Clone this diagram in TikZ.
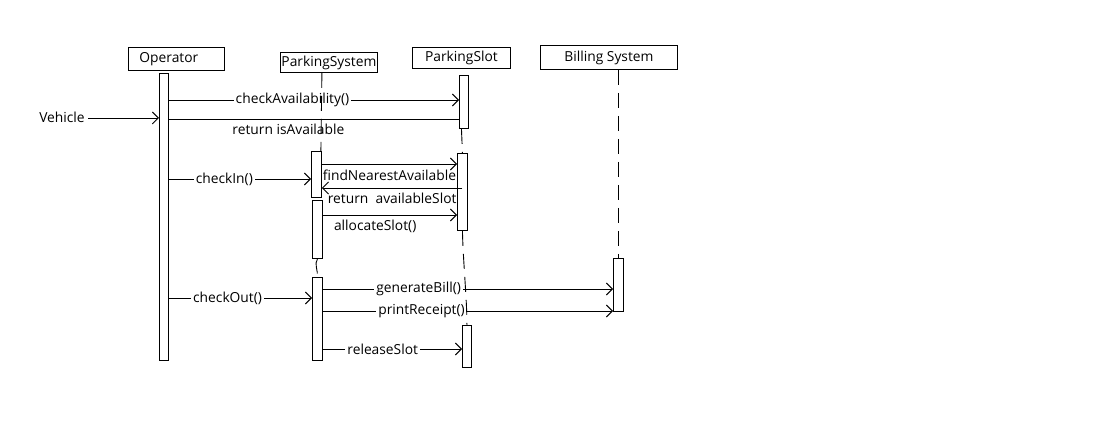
\documentclass[tikz,border=0pt]{standalone}
\usepackage{fontspec}
\setmainfont{Open Sans}
\usetikzlibrary{arrows.meta}
\begin{document}
\begin{tikzpicture}[x=1pt,y=-1pt,
  every node/.style={font=\fontsize{13.8}{16}\selectfont},
  obj/.style={draw, line width=0.9pt, inner sep=0pt, anchor=north west},
  act/.style={draw, fill=white, line width=0.9pt, inner sep=0pt, anchor=north west},
  msg/.style={line width=0.9pt, -{Straight Barb[length=6pt,width=12pt]}},
  plainmsg/.style={line width=0.9pt},
  lbl/.style={fill=white, inner xsep=2pt, inner ysep=1pt},
  lblbelow/.style={anchor=north, inner sep=1pt, yshift=-4pt},
  life/.style={line width=0.9pt, dash pattern=on 15pt off 8pt}]
\useasboundingbox (0,0) rectangle (1100,438);

% objects
\node[obj, minimum height=23pt, align=left, text width=74pt, inner xsep=11pt] (op) at (128,47) {Operator};
\node[obj, minimum width=97pt, minimum height=20pt] (ps) at (280,52) {ParkingSystem};
\node[obj, minimum width=98pt, minimum height=21pt] (slot) at (412,47) {ParkingSlot};
\node[obj, minimum width=137pt, minimum height=24pt] (bill) at (540,45) {Billing System};

% activation bars
\node[act, minimum width=9pt,  minimum height=287pt] (opact) at (159,73) {};
\node[act, minimum width=10pt, minimum height=46pt]  (ps1)   at (311,151) {};
\node[act, minimum width=10pt, minimum height=58pt]  (ps2)   at (312,200) {};
\node[act, minimum width=10pt, minimum height=83pt]  (ps3)   at (312,277) {};
\node[act, minimum width=9pt,  minimum height=53pt]  (sl1)   at (459,75) {};
\node[act, minimum width=10pt, minimum height=77pt]  (sl2)   at (457,153) {};
\node[act, minimum width=9pt,  minimum height=42pt]  (sl3)   at (462,325) {};
\node[act, minimum width=10pt, minimum height=53pt]  (bl)    at (613,258) {};

% external actor
\node (veh) at (62,117) {Vehicle};

% messages
\draw[msg] (opact.east |- 0,100) -- node[lbl, pos=0.426] {checkAvailability()} (sl1.west |- 0,100);
\draw[msg] (veh.east |- 0,118) -- (opact.west |- 0,118);
\draw[plainmsg] (opact.east |- 0,119) -- node[lblbelow, pos=0.412] {return isAvailable} (sl1.west |- 0,119);
\draw[msg] (opact.east |- 0,179) -- node[lbl, pos=0.39] {checkIn()} (ps1.west |- 0,179);
\draw[msg] (ps1.east |- 0,164) -- node[lblbelow, pos=0.5] {findNearestAvailable} (sl2.west |- 0,164);
\draw[msg] (sl2.center |- 0,188) -- node[lblbelow, pos=0.5] {return\ \ availableSlot} (ps1.east |- 0,188);
\draw[msg] (ps2.east |- 0,215) -- node[lblbelow, pos=0.39] {allocateSlot()} (sl2.west |- 0,215);
\draw[msg] (opact.east |- 0,298) -- node[lbl, pos=0.41] {checkOut()} (ps3.west |- 0,298);
\draw[msg] (ps3.east |- 0,289) -- node[lbl, pos=0.33] {generateBill()} (bl.west |- 0,289);
\draw[msg] (ps3.east |- 0,311) -- node[lbl, pos=0.34] {printReceipt()} (bl.west |- 0,311);
\draw[msg] (ps3.east |- 0,349) -- node[lbl, pos=0.43] {releaseSlot} (sl3.west |- 0,349);

% lifelines
\draw[life] (ps.south -| ps1.east) -- ([xshift=-1pt]ps1.north east);
\draw[life] (ps2.south) .. controls (314,264) and (318,270) .. (ps3.north);
\draw[life] (slot.south |- sl1.south) -- (sl2.north);
\draw[life] (sl2.south) .. controls (463,260) and (467,300) .. (sl3.north);
\draw[life] (bill.south -| bl.north) -- (bl.north);
\end{tikzpicture}
\end{document}
